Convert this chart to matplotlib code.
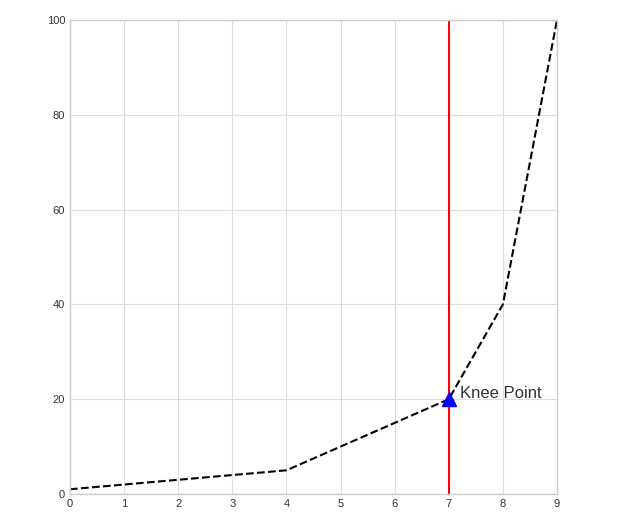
import matplotlib.pyplot as plt

plt.style.use('seaborn-v0_8-whitegrid')
plt.rcParams['font.family'] = ['Liberation Sans', 'DejaVu Sans']

# andmed
x = [0, 1, 2, 3, 4, 5, 6, 7, 8, 9]
y = [1, 2, 3, 4, 5, 10, 15, 20, 40, 100]
knee_x = 7
knee_y = 20

fig = plt.figure(figsize=(6.3, 5.18), dpi=100)
ax = fig.add_axes([70 / 630, 24 / 518, 487 / 630, 474 / 518])

ax.plot(x, y, 'k--', linewidth=1.5)
ax.axvline(knee_x, color='red', linewidth=1.5)
ax.plot(knee_x, knee_y, marker='^', color='blue', markersize=10)
ax.text(knee_x + 0.2, knee_y + 0.2, 'Knee Point', fontsize=12, color='#333333')

ax.set_xlim(0, 9)
ax.set_ylim(0, 100)
ax.set_xticks(range(0, 10))
ax.grid(color='#dddddd')
ax.tick_params(labelsize=8, colors='#333333')

fig.savefig('out.png', dpi=100)
